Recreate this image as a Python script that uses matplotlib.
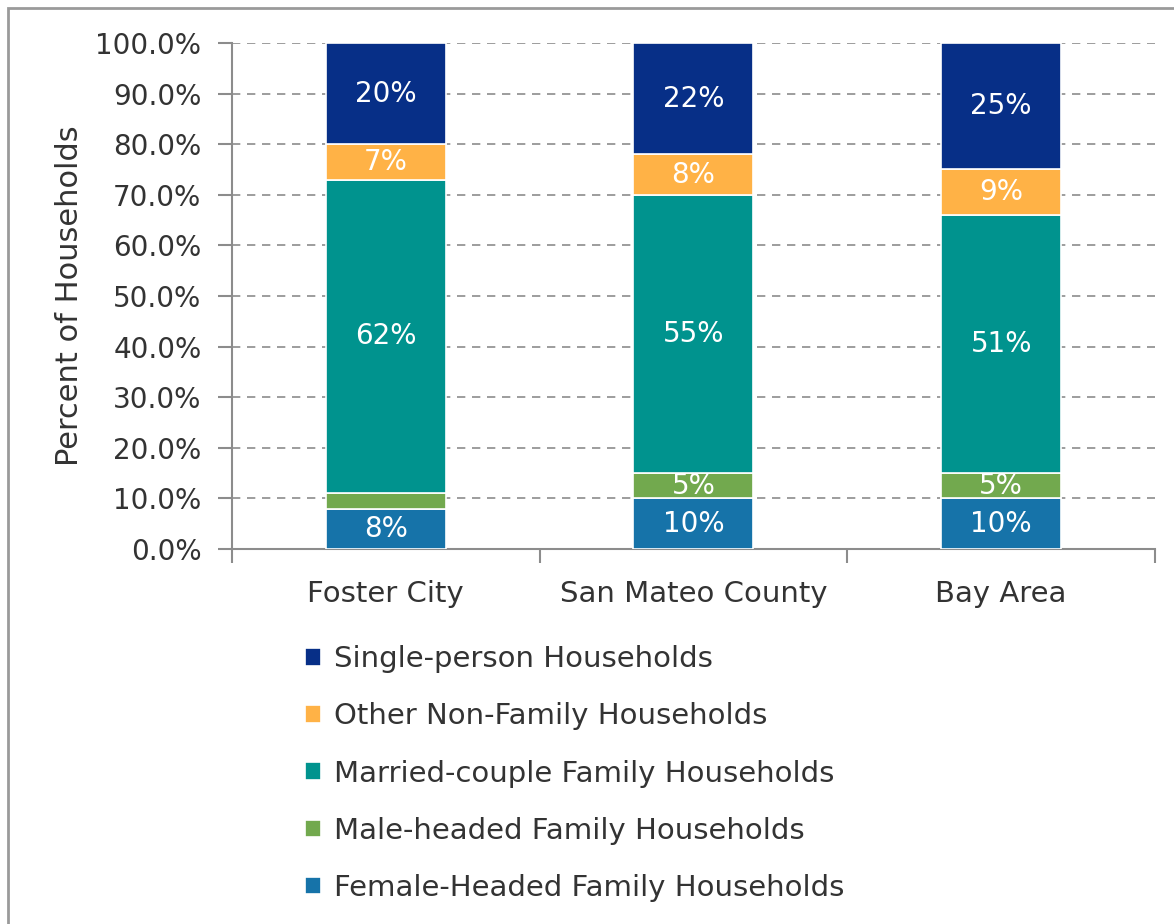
import matplotlib.pyplot as plt
import matplotlib.patches as patches
import numpy as np

plt.rcParams['font.family'] = ['DejaVu Sans']

areas = ['Foster City', 'San Mateo County', 'Bay Area']
female = [8, 10, 10]
male = [3, 5, 5]
married = [62, 55, 51]
other = [7, 8, 9]
single = [20, 22, 25]

names = ['Female-Headed Family Households', 'Male-headed Family Households',
         'Married-couple Family Households', 'Other Non-Family Households',
         'Single-person Households']
colors = ['#1673A9', '#72A94E', '#00938E', '#FFB246', '#072F87']

fig = plt.figure(figsize=(11.74, 9.24), dpi=100)
ax = fig.add_axes([0.1976, 0.4058, 0.7862, 0.5477])

# grey frame round the whole chart
fig.patches.append(patches.Rectangle((8/1174, -0.01), 1.1, 1 - 8/924 + 0.01,
                                     transform=fig.transFigure, fill=False,
                                     edgecolor='#9a9a9a', linewidth=2))

x = np.arange(len(areas))
bottom = np.zeros(len(areas))
bars = []
for vals, name, c in zip([female, male, married, other, single], names, colors):
    b = ax.bar(x, vals, 0.39, bottom=bottom, color=c, edgecolor='white',
               linewidth=1.2, label=name, zorder=3)
    bars.append(b)
    for xi, v, b0 in zip(x, vals, bottom):
        if v >= 4:
            ax.text(xi, b0 + v / 2, f'{v}%', ha='center', va='center',
                    color='white', fontsize=20, zorder=4)
    bottom += vals

ax.set_xlim(-0.5, 2.5)
ax.set_ylim(0, 100)
ax.set_yticks(range(0, 101, 10))
ax.set_yticklabels([f'{v:.1f}%' for v in range(0, 101, 10)], fontsize=20, color='#333333')
ax.set_xticks(x)
ax.set_xticklabels(areas, fontsize=21, color='#333333')
ax.tick_params(axis='x', length=0, pad=22)
ax.set_xticks([-0.5, 0.5, 1.5, 2.5], minor=True)
ax.tick_params(axis='x', which='minor', length=10, color='#8c8c8c', width=1.5)
ax.tick_params(axis='y', length=10, color='#8c8c8c', width=1.5, pad=12)
ax.yaxis.grid(True, linestyle=(0, (5, 4)), color='#8c8c8c', linewidth=1.2, zorder=0)
ax.set_axisbelow(True)
for s in ['top', 'right']:
    ax.spines[s].set_visible(False)
for s in ['left', 'bottom']:
    ax.spines[s].set_color('#8c8c8c')
    ax.spines[s].set_linewidth(1.5)
ax.set_ylabel('Percent of Households', fontsize=22, color='#333333', labelpad=8)

handles = bars[::-1]
fig.legend(handles, [h.get_label() for h in handles], loc='upper left',
           bbox_to_anchor=(279/1174, 1 - 619/924), frameon=False, fontsize=21,
           handlelength=0.55, handleheight=0.55, handletextpad=0.45,
           labelspacing=1.0, labelcolor='#333333')

fig.savefig('out.png', dpi=100)
